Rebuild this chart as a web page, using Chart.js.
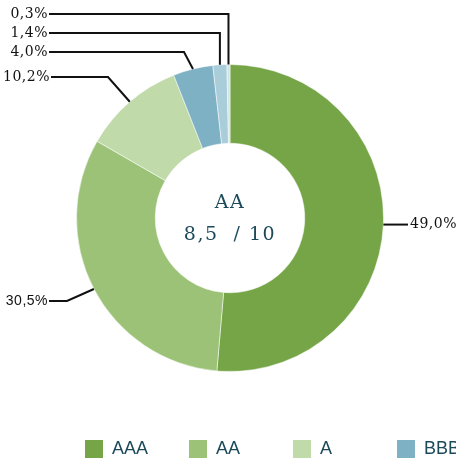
<!DOCTYPE html>
<html>
<head>
<meta charset="utf-8">
<script src="https://cdn.jsdelivr.net/npm/chart.js@4.4.0/dist/chart.umd.min.js"></script>
<style>
  html, body { margin: 0; padding: 0; background: #ffffff; overflow: hidden; }
  canvas { display: block; }
</style>
</head>
<body>
<canvas id="ratingChart" width="456" height="462"></canvas>
<script>
// rating split of the portfolio
var ratingLabels = ['AAA', 'AA', 'A', 'BBB', 'BB', 'B'];
var shareValues = [49.0, 30.5, 10.2, 4.0, 1.4, 0.3];
var ratingColors = ['#76a548', '#9cc277', '#c0dba9', '#7fb1c4', '#a9cdd9', '#cfe3ea'];
var centerRating = 'AA';
var centerScore = '8,5  / 10';

// where each callout label sits (layout only)
var serifFont = '14px "DejaVu Serif", serif';
var sansFont = '14px "Liberation Sans", Arial, sans-serif';
var calloutLayout = [
  { side: 'right', y: null, textX: 410, elbowX: 408, font: serifFont },
  { side: 'left', y: 301, textX: 48, elbowX: 67, font: sansFont },
  { side: 'left', y: 77, textX: 50, elbowX: 108, font: serifFont },
  { side: 'left', y: 52, textX: 48, elbowX: 184, font: serifFont },
  { side: 'left', y: 33, textX: 48, elbowX: null, font: serifFont },
  { side: 'left', y: 14, textX: 48, elbowX: null, font: serifFont }
];

var inkColor = '#1c4a5b';

function pct(v) {
  return v.toFixed(1).replace('.', ',') + '%';
}

//leader lines + percentage labels
var calloutPlugin = {
  id: 'callouts',
  afterDatasetsDraw: function(chart) {
    var ctx = chart.ctx;
    var meta = chart.getDatasetMeta(0);
    ctx.save();
    ctx.strokeStyle = '#111111';
    ctx.lineWidth = 2;
    ctx.fillStyle = '#111111';
    ctx.textBaseline = 'middle';
    meta.data.forEach(function(arc, i) {
      var p = arc.getProps(['x', 'y', 'startAngle', 'endAngle', 'outerRadius'], true);
      var mid = (p.startAngle + p.endAngle) / 2;
      var ax = p.x + Math.cos(mid) * p.outerRadius;
      var ay = p.y + Math.sin(mid) * p.outerRadius;
      var lay = calloutLayout[i];
      var text = pct(shareValues[i]);
      ctx.font = lay.font;
      ctx.letterSpacing = '0.5px';
      ctx.beginPath();
      if (lay.side === 'right') {
        ctx.moveTo(ax, ay);
        ctx.lineTo(lay.elbowX, ay);
        ctx.stroke();
        ctx.textAlign = 'left';
        ctx.fillText(text, lay.textX, ay);
      } else {
        var ex = lay.elbowX === null ? ax : lay.elbowX;
        ctx.moveTo(ax, ay);
        ctx.lineTo(ex, lay.y);
        ctx.lineTo(lay.textX + 1, lay.y);
        ctx.stroke();
        ctx.textAlign = 'right';
        ctx.fillText(text, lay.textX, lay.y);
      }
    });
    ctx.restore();
  }
};

//score text in the hole
var centerPlugin = {
  id: 'centerText',
  afterDraw: function(chart) {
    var ctx = chart.ctx;
    var arc = chart.getDatasetMeta(0).data[0];
    ctx.save();
    ctx.fillStyle = inkColor;
    ctx.font = '19px "DejaVu Serif", serif';
    ctx.letterSpacing = '1.5px';
    ctx.textAlign = 'center';
    ctx.textBaseline = 'alphabetic';
    ctx.fillText(centerRating, arc.x, arc.y - 10);
    ctx.fillText(centerScore, arc.x, arc.y + 22);
    ctx.restore();
  }
};

//legend row, runs off the right edge like the original
var legendPlugin = {
  id: 'rowLegend',
  afterDraw: function(chart) {
    var ctx = chart.ctx;
    var colors = chart.data.datasets[0].backgroundColor;
    ctx.save();
    ctx.font = '18px "Liberation Sans", Arial, sans-serif';
    ctx.textBaseline = 'alphabetic';
    ctx.textAlign = 'left';
    chart.data.labels.forEach(function(lbl, i) {
      var x = 85 + i * 104;
      ctx.fillStyle = colors[i];
      ctx.fillRect(x, 440, 18, 18);
      ctx.fillStyle = inkColor;
      ctx.fillText(lbl, x + 27, 454);
    });
    ctx.restore();
  }
};

var chart = new Chart(document.getElementById('ratingChart'), {
  type: 'doughnut',
  data: {
    labels: ratingLabels,
    datasets: [{
      data: shareValues,
      backgroundColor: ratingColors,
      borderColor: 'rgba(255,255,255,0.5)',
      borderWidth: 1
    }]
  },
  options: {
    responsive: false,
    animation: false,
    cutout: '48.7%',
    layout: { padding: { left: 76, right: 72, top: 64, bottom: 90 } },
    plugins: {
      legend: { display: false },
      tooltip: { enabled: false }
    }
  },
  plugins: [calloutPlugin, centerPlugin, legendPlugin]
});
</script>
</body>
</html>
